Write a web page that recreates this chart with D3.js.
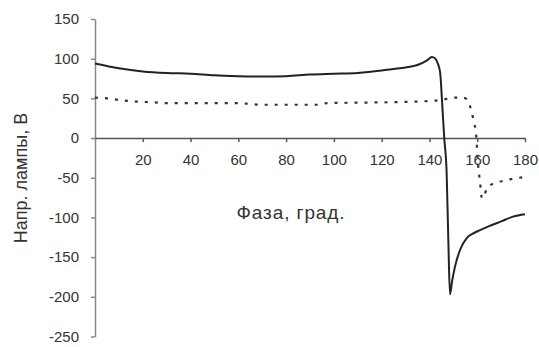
<!DOCTYPE html>
<html>
<head>
<meta charset="utf-8">
<script src="https://cdn.jsdelivr.net/npm/d3@7/dist/d3.min.js"></script>
<style>
  html, body { margin: 0; padding: 0; background: #fff; }
  svg { display: block; }
  text { font-family: "Liberation Sans", Arial, sans-serif; fill: #333; }
</style>
</head>
<body>
<svg id="chart" width="539" height="347"></svg>
<script>
// Lamp voltage vs. phase angle: solid and dotted curves
const solidPhase = [0, 10, 20, 30, 40, 50, 60, 70, 80, 90, 100, 110, 120, 125, 130, 135, 139, 141, 142.5, 143.5, 144.5, 145.3, 146.2, 147.2, 147.9, 148.6, 149.5, 150.7, 152.8, 155.6, 158.4, 161.2, 165, 170, 175, 180];
const solidVolt  = [94, 88, 84, 82, 81, 79, 78, 77.5, 78, 80, 81, 82, 85, 87, 89, 92, 98, 102, 100, 94, 82, 45, 0, -44, -128, -197, -180, -162, -141, -126, -120, -116, -111, -105, -99, -96];

const dottedPhase = [0, 5, 10, 17, 25, 30, 60, 65, 70, 94, 97, 120, 135, 145, 150, 154, 155.6, 157, 158.4, 159.6, 160.3, 161.2, 162, 164.6, 169.5, 173.7, 180];
const dottedVolt  = [51, 50, 48, 46, 45, 44, 44, 43, 42, 42, 44, 45, 46, 48, 51, 51, 49, 40, 23, 2, -31, -56, -76, -61, -55, -52, -49];

const xTicks = [20, 40, 60, 80, 100, 120, 140, 160, 180];
const yTicks = [150, 100, 50, 0, -50, -100, -150, -200, -250];

const svg = d3.select("#chart");

const x = d3.scaleLinear().domain([0, 180]).range([95, 525]);
const y = d3.scaleLinear().domain([-250, 150]).range([336.5, 19]);

// plain hyphen for negative numbers
const fmt = d => String(d);

// Y axis on the left
const yAxis = svg.append("g")
  .attr("transform", `translate(${x(0)},0)`)
  .call(d3.axisLeft(y).tickValues(yTicks).tickFormat(fmt).tickSize(4).tickPadding(12).tickSizeOuter(0));
yAxis.select(".domain").attr("stroke", "#888").attr("stroke-width", 1.5);
yAxis.selectAll(".tick line").attr("stroke", "#888").attr("stroke-width", 1.5);
yAxis.selectAll(".tick text")
  .attr("font-size", 15).attr("fill", "#333")
  .attr("font-family", "Liberation Sans, Arial, sans-serif");

// X axis along zero
const xAxis = svg.append("g")
  .attr("transform", `translate(0,${y(0)})`)
  .call(d3.axisBottom(x).tickValues(xTicks).tickFormat(fmt).tickSize(4).tickPadding(12).tickSizeOuter(0));
xAxis.select(".domain").attr("stroke", "#555").attr("stroke-width", 1.5);
xAxis.selectAll(".tick line").attr("stroke", "#555").attr("stroke-width", 1.5);
xAxis.selectAll(".tick text")
  .attr("font-size", 15).attr("fill", "#333")
  .attr("font-family", "Liberation Sans, Arial, sans-serif");

const line = d3.line()
  .x(d => x(d[0]))
  .y(d => y(d[1]))
  .curve(d3.curveMonotoneX);

svg.append("path")
  .datum(dottedPhase.map((p, i) => [p, dottedVolt[i]]))
  .attr("fill", "none")
  .attr("stroke", "#333")
  .attr("stroke-width", 2.2)
  .attr("stroke-dasharray", "3,7")
  .attr("d", line);

svg.append("path")
  .datum(solidPhase.map((p, i) => [p, solidVolt[i]]))
  .attr("fill", "none")
  .attr("stroke", "#222")
  .attr("stroke-width", 2)
  .attr("d", line);

// Axis titles
svg.append("text")
  .attr("x", 291).attr("y", 219)
  .attr("text-anchor", "middle")
  .attr("font-size", 19)
  .attr("letter-spacing", 0.9)
  .text("Фаза, град.");

svg.append("text")
  .attr("transform", "translate(27,178) rotate(-90)")
  .attr("text-anchor", "middle")
  .attr("font-size", 18)
  .text("Напр. лампы, В");
</script>
</body>
</html>
